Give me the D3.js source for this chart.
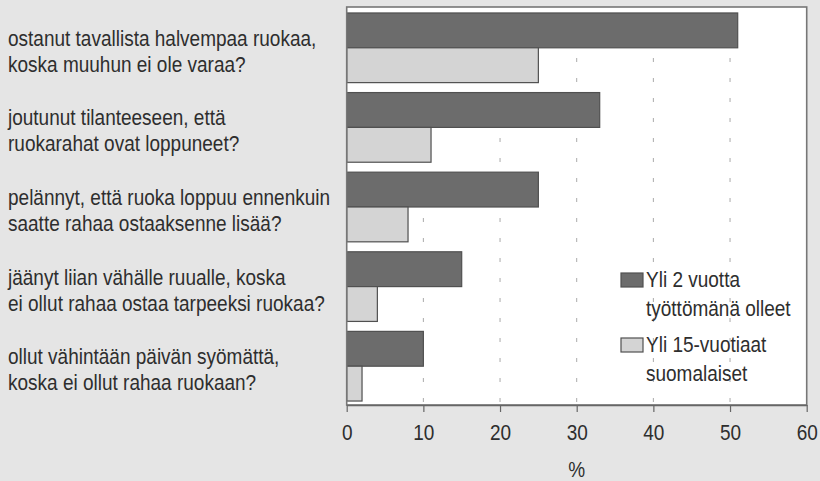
<!DOCTYPE html>
<html>
<head>
<meta charset="utf-8">
<script src="https://cdn.jsdelivr.net/npm/d3@7"></script>
<style>
  html, body { margin: 0; padding: 0; background: #e5e5e5; }
  svg { display: block; font-family: "Liberation Sans", Arial, Helvetica, sans-serif; }
</style>
</head>
<body>
<svg id="chart" width="820" height="481"></svg>
<script>
// ---- data ----
const categories = [
  ["ostanut tavallista halvempaa ruokaa,", "koska muuhun ei ole varaa?"],
  ["joutunut tilanteeseen, että", "ruokarahat ovat loppuneet?"],
  ["pelännyt, että ruoka loppuu ennenkuin", "saatte rahaa ostaaksenne lisää?"],
  ["jäänyt liian vähälle ruualle, koska", "ei ollut rahaa ostaa tarpeeksi ruokaa?"],
  ["ollut vähintään päivän syömättä,", "koska ei ollut rahaa ruokaan?"]
];
const seriesNames = [
  ["Yli 2 vuotta", "työttömänä olleet"],
  ["Yli 15-vuotiaat", "suomalaiset"]
];
const unemployed = [51, 33, 25, 15, 10];
const population = [25, 11, 8, 4, 2];
const xTicks = [0, 10, 20, 30, 40, 50, 60];
const xTitle = "%";

// ---- layout ----
const svg = d3.select("#chart");
const pL = 346.7, pR = 806.7, pT = 7, pB = 405;
const fills = ["#6c6c6c", "#d4d4d4"];
const textColor = "#2e2e2e";
const FS = 19, SY = 1.13;

function label(parent, xx, yy, t, anchor) {
  return parent.append("text")
    .attr("transform", `translate(${xx},${yy}) scale(1,${SY})`)
    .attr("font-size", FS).attr("fill", textColor)
    .attr("text-anchor", anchor || "start").text(t);
}

const x = d3.scaleLinear().domain([0, 60]).range([pL, pR]);
const idx = d3.range(categories.length);
const y0 = d3.scaleBand().domain(idx).range([pT, pB + 2]).paddingInner(0.125).paddingOuter(0.075);
const y1 = d3.scaleBand().domain([0, 1]).range([0, y0.bandwidth()]);

// plot background
svg.append("rect").attr("x", pL).attr("y", pT).attr("width", pR - pL).attr("height", pB - pT)
  .attr("fill", "#fff");

// gridlines
svg.append("g").selectAll("line").data(xTicks.filter(d => d > 0 && d < 60)).join("line")
  .attr("x1", d => x(d)).attr("x2", d => x(d)).attr("y1", pT).attr("y2", pB)
  .attr("stroke", "#aaa").attr("stroke-width", 1).attr("stroke-dasharray", "4,16").attr("stroke-dashoffset", -11);

// bars
const series = [unemployed, population];
const g = svg.append("g");
series.forEach((vals, si) => {
  g.selectAll(".s" + si).data(vals).join("rect")
    .attr("class", "s" + si)
    .attr("x", x(0))
    .attr("y", (d, i) => y0(i) + y1(si))
    .attr("width", d => x(d) - x(0))
    .attr("height", y1.bandwidth())
    .attr("fill", fills[si])
    .attr("stroke", "#505050").attr("stroke-width", 1.2);
});

// frame
svg.append("rect").attr("x", pL).attr("y", pT).attr("width", pR - pL).attr("height", pB - pT)
  .attr("fill", "none").attr("stroke", "#777").attr("stroke-width", 1.6);

// x axis
const axis = d3.axisBottom(x).tickValues(xTicks).tickSize(7).tickSizeOuter(0);
const ax = svg.append("g").attr("transform", `translate(0,${pB})`).call(axis);
ax.select(".domain").attr("stroke", "#666").attr("stroke-width", 1.6);
ax.selectAll(".tick line").attr("stroke", "#666").attr("stroke-width", 1.2);
ax.selectAll(".tick text").attr("font-size", FS).attr("fill", textColor)
  .attr("font-family", '"Liberation Sans", Arial, sans-serif')
  .attr("y", 0).attr("dy", 0)
  .attr("transform", `translate(0,35) scale(1,${SY})`);

label(svg, x(30), 477, xTitle, "middle");

// category labels
const lab = svg.append("g");
categories.forEach((lines, i) => {
  const c = y0(i) + y0.bandwidth() / 2;
  lines.forEach((t, k) => label(lab, 8, c - 2 + k * 26, t));
});

// legend
const leg = svg.append("g");
const legTop = [287, 352];
seriesNames.forEach((lines, si) => {
  leg.append("rect").attr("x", 621).attr("y", legTop[si] - 14).attr("width", 22).attr("height", 14)
    .attr("fill", fills[si]).attr("stroke", "#505050").attr("stroke-width", 1.2);
  lines.forEach((t, k) => label(leg, 646, legTop[si] + k * 29, t));
});
</script>
</body>
</html>
